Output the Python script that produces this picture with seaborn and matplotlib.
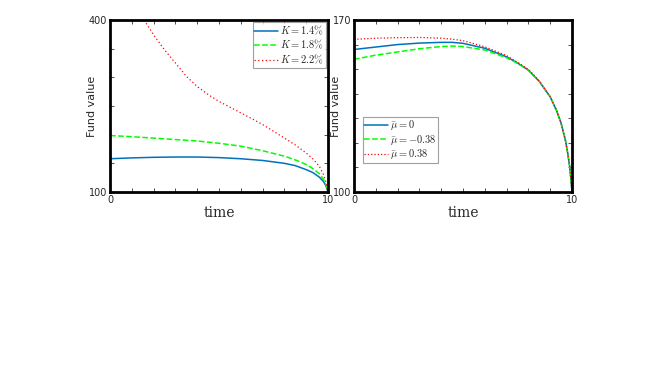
import matplotlib
matplotlib.use("Agg")
import matplotlib.pyplot as plt
import seaborn as sns
import numpy as np

sns.set_style("ticks")
plt.rcParams['font.family'] = ['DejaVu Sans']
plt.rcParams['mathtext.fontset'] = 'cm'

# left panel: strike K
t_k14 = [0, 1, 2, 3, 4, 5, 6, 7, 8, 8.5, 9, 9.3, 9.6, 9.8, 9.9, 10]
v_k14 = [158, 159.5, 160.5, 161, 161, 160, 158, 155, 150, 146, 139, 134, 126, 118, 111, 100]
t_k18 = [0, 1, 2, 3, 4, 5, 6, 7, 8, 8.5, 9, 9.3, 9.6, 9.8, 9.9, 10]
v_k18 = [198.5, 196.5, 194, 191.5, 189, 185, 180, 172, 162.5, 156, 148, 141, 132, 122, 113, 100]
t_k22 = [1.57, 2, 2.5, 3, 3.5, 4, 4.5, 5, 5.5, 6, 6.5, 7, 7.5, 8, 8.5, 9, 9.3, 9.6, 9.8, 9.9, 10]
v_k22 = [400, 374, 348, 325, 302, 284, 270, 258, 248, 238, 228, 217.6, 206, 194, 182, 168, 158, 145, 130, 118, 100]

# right panel: drift mu
t_mu = [0, 1, 2, 3, 4, 4.5, 5, 6, 7, 7.5, 8, 8.5, 9, 9.3, 9.5, 9.7, 9.8, 9.9, 10]
v_mu0 = [158, 159, 160, 160.6, 160.9, 160.9, 160.5, 158.5, 155, 152.5, 149.6, 145, 138.7, 133, 128, 121, 116, 110, 100]
v_mun = [154, 155.7, 157, 158.3, 159.2, 159.4, 159.2, 157.8, 154.6, 152.4, 149.5, 145, 138.7, 133, 128, 121, 116, 110, 100]
v_mup = [162.1, 162.6, 162.8, 162.9, 162.6, 162.2, 161.6, 159.1, 155.5, 152.8, 149.9, 145.2, 138.8, 133, 128, 121, 116, 110, 100]

blue = '#0072BD'
green = '#00FF00'
red = '#FF0000'

fig = plt.figure(figsize=(6.67, 3.75), dpi=100)
ax1 = fig.add_axes([110/667, 1 - 192/375, 218/667, 172/375])
ax2 = fig.add_axes([354/667, 1 - 192/375, 218/667, 172/375])

sns.lineplot(x=t_k14, y=v_k14, ax=ax1, color=blue, lw=1.1, label=r'$K=1.4\%$')
sns.lineplot(x=t_k18, y=v_k18, ax=ax1, color=green, lw=1.1, linestyle='--', label=r'$K=1.8\%$')
sns.lineplot(x=t_k22, y=v_k22, ax=ax1, color=red, lw=0.9, linestyle=(0, (1, 2)), label=r'$K=2.2\%$')

sns.lineplot(x=t_mu, y=v_mu0, ax=ax2, color=blue, lw=1.1, label=r'$\bar{\mu}=0$')
sns.lineplot(x=t_mu, y=v_mun, ax=ax2, color=green, lw=1.1, linestyle='--', label=r'$\bar{\mu}=-0.38$')
sns.lineplot(x=t_mu, y=v_mup, ax=ax2, color=red, lw=0.9, linestyle=':', label=r'$\bar{\mu}=0.38$')

for ax, ylo, yhi, ystep in [(ax1, 100, 400, 50), (ax2, 100, 170, 10)]:
    ax.set_xlim(0, 10)
    ax.set_ylim(ylo, yhi)
    xt = np.arange(0, 11, 1)
    ax.set_xticks(xt)
    ax.set_xticklabels(['0'] + [''] * 9 + ['10'])
    yt = np.arange(ylo, yhi + 1, ystep)
    ax.set_yticks(yt)
    ax.set_yticklabels([str(ylo)] + [''] * (len(yt) - 2) + [str(yhi)])
    ax.tick_params(direction='in', top=True, right=True, length=3, width=0.6,
                   labelsize=7, pad=2, color='#333333')
    for s in ax.spines.values():
        s.set_linewidth(2.0)
        s.set_color('black')
    ax.set_xlabel('time', family='DejaVu Serif', fontsize=10, labelpad=1)
    ax.set_ylabel('Fund value', fontsize=8, labelpad=-6)

leg1 = ax1.legend(loc='upper right', fontsize=7.5, frameon=True, fancybox=False,
                  borderpad=0.15, labelspacing=0.12, handlelength=2.3, handletextpad=0.2,
                  borderaxespad=0.2)
leg2 = ax2.legend(loc='lower left', bbox_to_anchor=(0.04, 0.17), fontsize=7.5, frameon=True,
                  fancybox=False, borderpad=0.15, labelspacing=0.05, handlelength=2.3,
                  handletextpad=0.2, borderaxespad=0)
for leg in (leg1, leg2):
    leg.get_frame().set_edgecolor('#888888')
    leg.get_frame().set_linewidth(0.8)

fig.savefig('out.png', dpi=100)
